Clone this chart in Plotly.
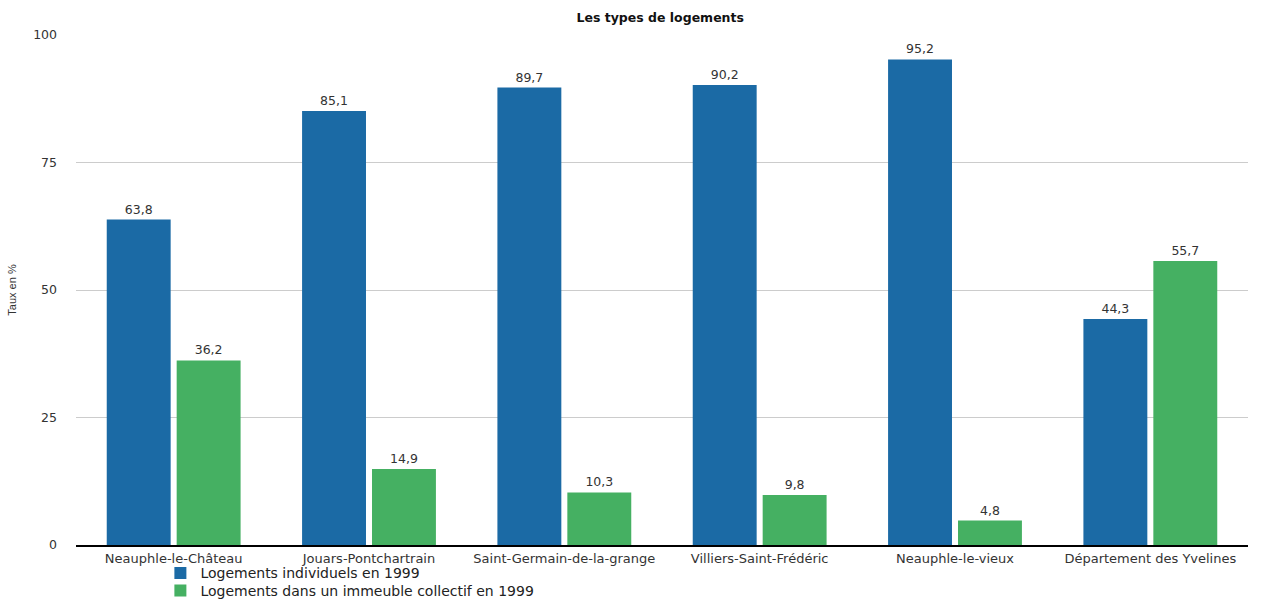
import plotly.graph_objects as go

categories = ["Neauphle-le-Château", "Jouars-Pontchartrain", "Saint-Germain-de-la-grange",
              "Villiers-Saint-Frédéric", "Neauphle-le-vieux", "Département des Yvelines"]
individuels = [63.8, 85.1, 89.7, 90.2, 95.2, 44.3]
collectifs = [36.2, 14.9, 10.3, 9.8, 4.8, 55.7]
series_names = ["Logements individuels en 1999", "Logements dans un immeuble collectif en 1999"]
y_ticks = [0, 25, 50, 75, 100]

FONT = "DejaVu Sans, Liberation Sans, sans-serif"
BLUE = "#1b6aa5"
GREEN = "#45b062"

fig = go.Figure()
for name, vals, col, lg in [(series_names[0], individuels, BLUE, "legend"),
                            (series_names[1], collectifs, GREEN, "legend2")]:
    fig.add_trace(go.Bar(
        x=categories, y=vals, name=name, marker=dict(color=col, line=dict(width=0)),
        texttemplate="%{y:.1f}", textposition="outside", legend=lg,
        textfont=dict(family=FONT, size=12.5, color="#333333"), cliponaxis=False,
    ))

legend_common = dict(x=0.072, xanchor="left", yanchor="middle", orientation="v",
                     font=dict(family=FONT, size=14, color="#222222"),
                     bgcolor="rgba(0,0,0,0)", borderwidth=0)

fig.update_layout(
    width=1277, height=615,
    margin=dict(l=76, r=29, t=35, b=70, autoexpand=False),
    paper_bgcolor="white", plot_bgcolor="white",
    separators=", ",
    barmode="group", bargap=0.284, bargroupgap=0.086,
    title=dict(text="<b>Les types de logements</b>", x=0.517, xanchor="center", y=0.972, yanchor="middle",
               font=dict(family=FONT, size=12.5, color="#111111")),
    font=dict(family=FONT, color="#333333"),
    showlegend=True,
    legend=dict(y=-0.0555, **legend_common),
    legend2=dict(y=-0.0900, **legend_common),
    xaxis=dict(showline=True, linecolor="black", linewidth=2, ticks="", showgrid=False,
               tickfont=dict(family=FONT, size=13, color="#333333")),
    yaxis=dict(range=[0, 100], tickvals=y_ticks, showgrid=True, gridcolor="#cccccc", gridwidth=1,
               zeroline=False, ticks="", ticklabelstandoff=18,
               tickfont=dict(family=FONT, size=12.5, color="#333333"),
               title=dict(text="Taux en %", font=dict(family="Liberation Sans Narrow, Liberation Sans, sans-serif",
                                                      size=11, color="#333333"), standoff=14)),
)

fig.write_html("out.html")
